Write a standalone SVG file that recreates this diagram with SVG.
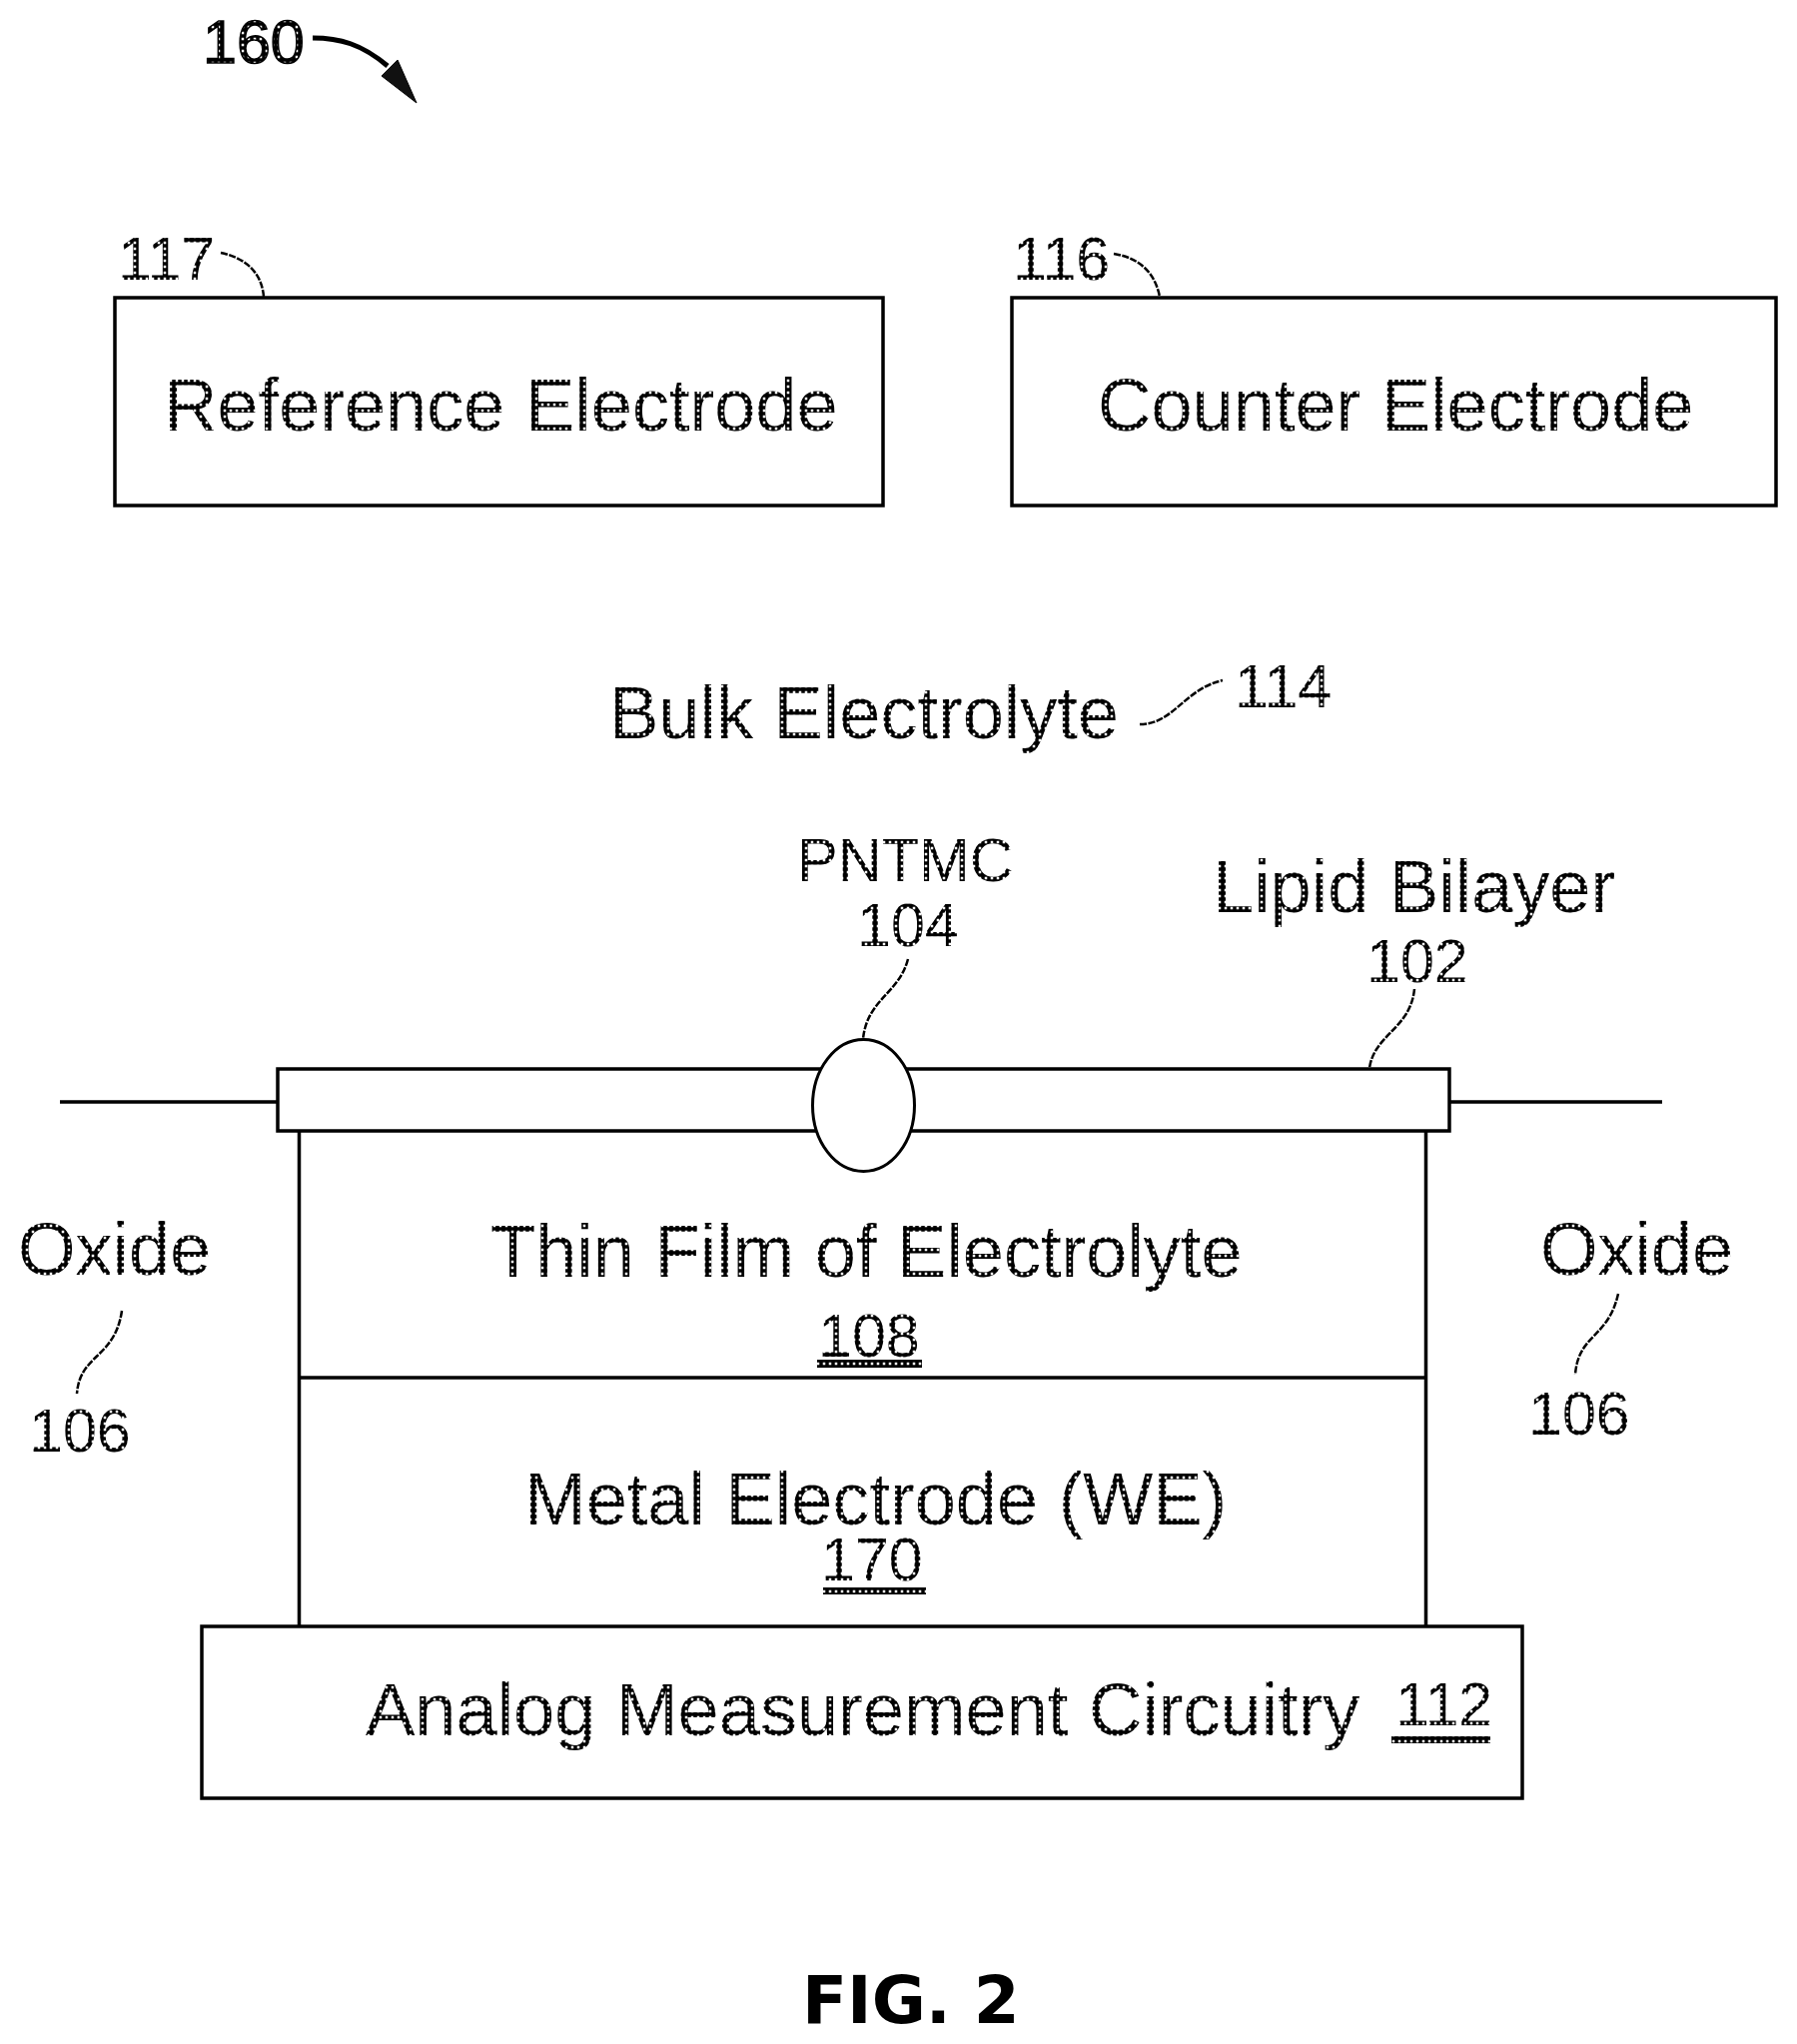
<svg xmlns="http://www.w3.org/2000/svg" width="1799" height="2046" viewBox="0 0 1799 2046">
<defs>
<pattern id="dither" width="6" height="6" patternUnits="userSpaceOnUse">
<rect width="6" height="6" fill="#000"/>
<rect x="1.750" y="1.750" width="2.500" height="2.500" fill="#fff"/>
</pattern>
</defs>
<style>
text{font-family:"Liberation Sans",Arial,sans-serif;fill:url(#dither)}
.l{font-size:74px}
.n{font-size:61px}
.box{fill:#fff;stroke:#000;stroke-width:3.5}
.w{fill:none;stroke:#000;stroke-width:3.5}
.lead{fill:none;stroke:#000;stroke-width:2.5;stroke-dasharray:7 1.5}
.ul{fill:url(#dither)}
.fig{font-family:"DejaVu Sans",sans-serif;font-weight:700;font-size:66px;fill:#000}
</style>
<rect width="1799" height="2046" fill="#fff"/>
<g id="connectors">
<path class="w" d="M60 1103H278M1451 1103H1664"/>
<path d="M313 38C340 38 362 44 388 66" fill="none" stroke="#000" stroke-width="5"/>
<path d="M398 60L417 103L382 76Z" fill="#111" stroke="#000" stroke-width="1"/>
<path class="lead" d="M221 253C245 258 262 272 264 297"/>
<path class="lead" d="M1115 254C1140 258 1156 272 1161 297"/>
<path class="lead" d="M1141 725C1175 725 1185 690 1224 681"/>
<path class="lead" d="M909 960C900 995 868 1000 864 1040"/>
<path class="lead" d="M1416 990C1412 1030 1376 1035 1371 1069"/>
<path class="lead" d="M122 1312C115 1360 80 1355 77 1395"/>
<path class="lead" d="M1620 1295C1610 1340 1580 1335 1577 1376"/>
</g>
<g id="fig-ref"><text class="n" x="203" y="63" stroke="#000" stroke-width="1.500">160</text></g>
<g id="reference-electrode">
<rect class="box" x="115" y="298" width="769" height="208"/>
<text class="n" x="118" y="280">117</text>
<text class="l" x="164" y="431">Reference Electrode</text>
</g>
<g id="counter-electrode">
<rect class="box" x="1013" y="298" width="765" height="208"/>
<text class="n" x="1014" y="280">116</text>
<text class="l" x="1099" y="431">Counter Electrode</text>
</g>
<g id="bulk-electrolyte">
<text class="l" x="610" y="739">Bulk Electrolyte</text>
<text class="n" x="1236" y="708">114</text>
</g>
<g id="thin-film">
<path class="w" d="M299.500 1132V1628M1427.500 1132V1628"/>
<path class="w" d="M299.500 1379H1427.500"/>
<text class="l" x="491" y="1278">Thin Film of Electrolyte</text>
<text class="n" x="819" y="1358">108</text>
<rect class="ul" x="818" y="1361" width="105" height="8"/>
</g>
<g id="metal-electrode">
<text class="l" x="525" y="1526">Metal Electrode (WE)</text>
<text class="n" x="822" y="1582">170</text>
<rect class="ul" x="824" y="1589" width="103" height="7"/>
</g>
<g id="lipid-bilayer">
<rect class="box" x="278" y="1070" width="1173" height="62"/>
<text class="l" x="1214" y="913">Lipid Bilayer</text>
<text class="n" x="1368" y="983">102</text>
</g>
<g id="pntmc">
<ellipse cx="864.500" cy="1106.500" rx="51" ry="66" fill="#fff" stroke="#000" stroke-width="3"/>
<text class="n" x="798" y="882">PNTMC</text>
<text class="n" x="858" y="947">104</text>
</g>
<g id="oxide-left">
<text class="l" x="18" y="1276">Oxide</text>
<text class="n" x="29" y="1453">106</text>
</g>
<g id="oxide-right">
<text class="l" x="1542" y="1276">Oxide</text>
<text class="n" x="1530" y="1436">106</text>
</g>
<g id="analog-circuitry">
<rect class="box" x="202" y="1628" width="1322" height="172"/>
<text class="l" x="366" y="1737">Analog Measurement Circuitry</text>
<text class="n" x="1397" y="1727">112</text>
<rect class="ul" x="1393" y="1738" width="99" height="7"/>
</g>
<g id="caption"><text class="fig" x="803" y="2025">FIG. 2</text></g>
</svg>
